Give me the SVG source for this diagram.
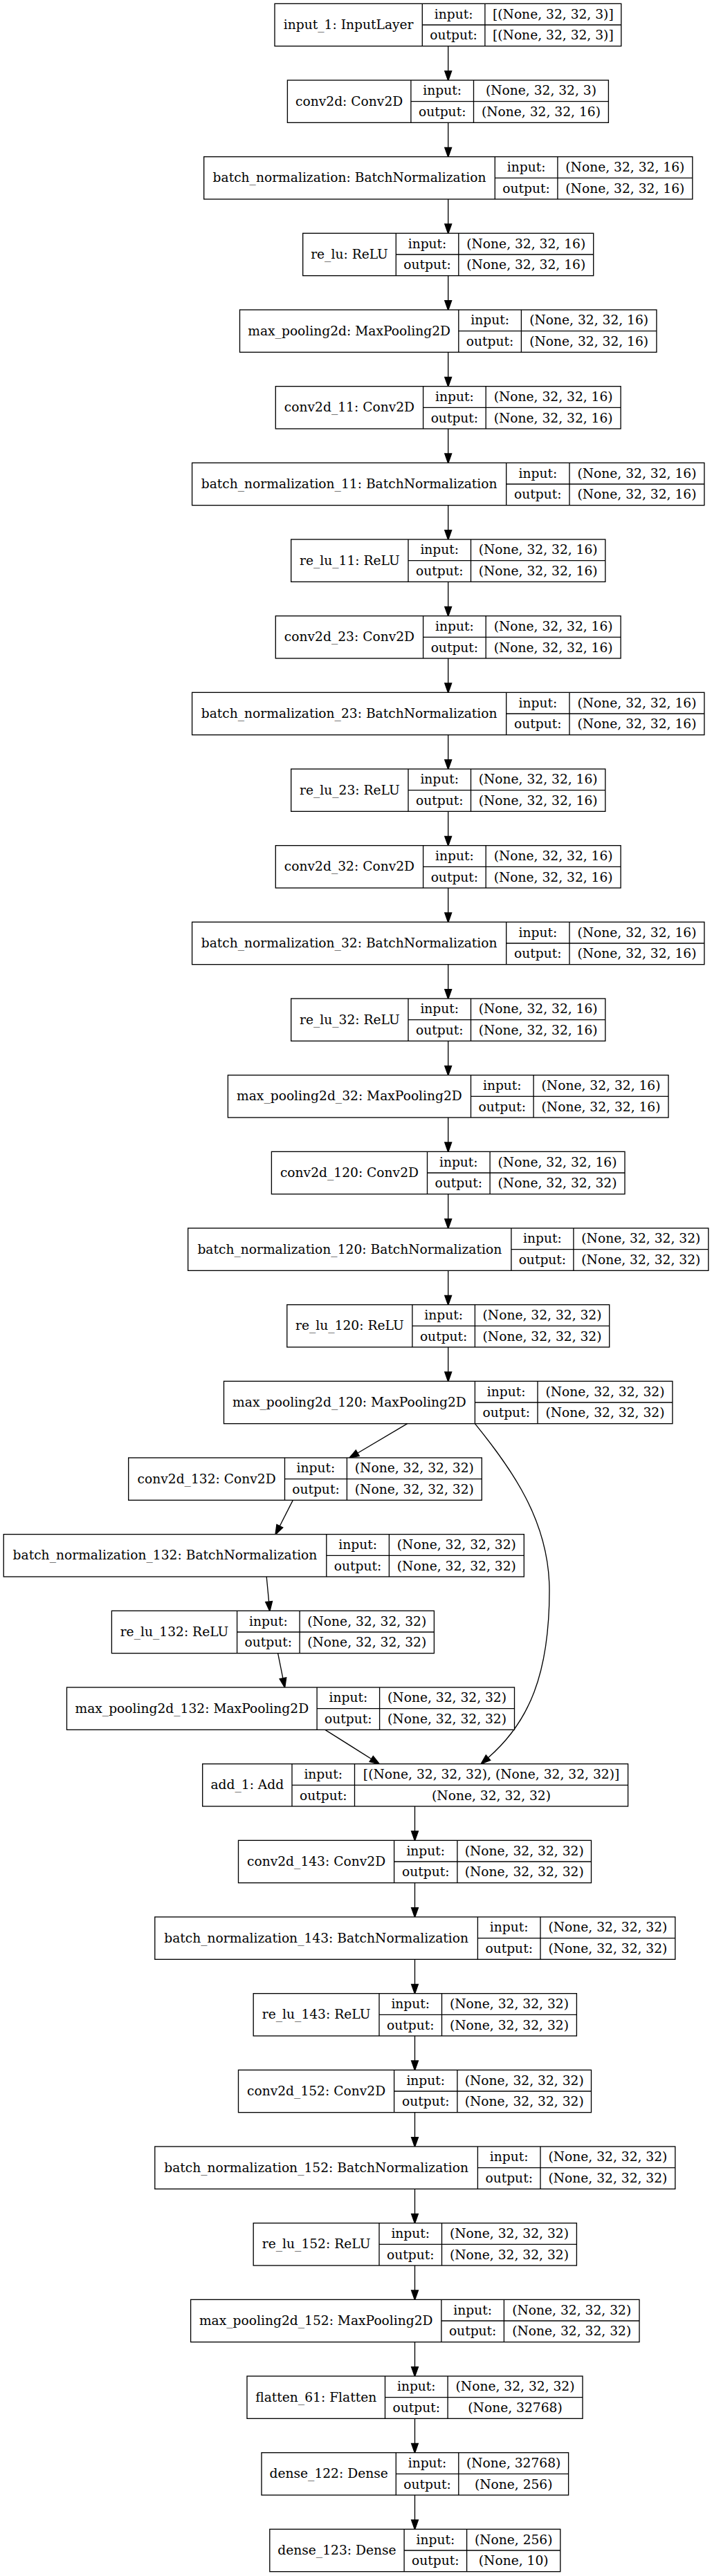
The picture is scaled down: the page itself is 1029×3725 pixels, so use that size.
<svg xmlns="http://www.w3.org/2000/svg" width="1029" height="3725" viewBox="0 0 1029 3725">
<style>
.node rect{fill:#fff;stroke:#000;stroke-width:1.33}
.node line{stroke:#000;stroke-width:1.33}
text{font-family:"DejaVu Serif","Liberation Serif",serif;font-size:18.67px;text-anchor:middle;fill:#000}
.edges path{fill:none;stroke:#000;stroke-width:1.33}
</style>
<defs>
<marker id="ah" markerUnits="userSpaceOnUse" markerWidth="16" markerHeight="12" viewBox="-1 -1 15.33 11.33" refX="0" refY="4.67" orient="auto" overflow="visible">
<path d="M0,0 L13.33,4.67 L0,9.33 z" fill="#000" stroke="#000" stroke-width="1.33"/>
</marker>
</defs>
<rect width="1029" height="3725" fill="#fff"/>
<g class="edges">
<path d="M647.7,66.67V102.67" marker-end="url(#ah)"/>
<path d="M647.7,177.33V213.33" marker-end="url(#ah)"/>
<path d="M647.7,288V324" marker-end="url(#ah)"/>
<path d="M647.7,398.67V434.67" marker-end="url(#ah)"/>
<path d="M647.7,509.33V545.33" marker-end="url(#ah)"/>
<path d="M647.7,620V656" marker-end="url(#ah)"/>
<path d="M647.7,730.67V766.67" marker-end="url(#ah)"/>
<path d="M647.7,841.33V877.33" marker-end="url(#ah)"/>
<path d="M647.7,952V988" marker-end="url(#ah)"/>
<path d="M647.7,1062.67V1098.67" marker-end="url(#ah)"/>
<path d="M647.7,1173.33V1209.33" marker-end="url(#ah)"/>
<path d="M647.7,1284V1320" marker-end="url(#ah)"/>
<path d="M647.7,1394.67V1430.67" marker-end="url(#ah)"/>
<path d="M647.7,1505.33V1541.33" marker-end="url(#ah)"/>
<path d="M647.7,1616V1652" marker-end="url(#ah)"/>
<path d="M647.7,1726.67V1762.67" marker-end="url(#ah)"/>
<path d="M647.7,1837.33V1873.33" marker-end="url(#ah)"/>
<path d="M647.7,1948V1984" marker-end="url(#ah)"/>
<path d="M588.7,2058.67L516.8,2101.2" marker-end="url(#ah)"/>
<path d="M686.4,2058.67C740,2125 794,2200 794,2300C794,2420 765,2490 705.5,2541.7" marker-end="url(#ah)"/>
<path d="M423.3,2169.33L404.3,2206.8" marker-end="url(#ah)"/>
<path d="M385.2,2280L388.6,2316.1" marker-end="url(#ah)"/>
<path d="M401.6,2390.67L408.9,2426.9" marker-end="url(#ah)"/>
<path d="M469.9,2501.33L536.7,2543.5" marker-end="url(#ah)"/>
<path d="M599.5,2612V2648" marker-end="url(#ah)"/>
<path d="M599.5,2722.67V2758.67" marker-end="url(#ah)"/>
<path d="M599.5,2833.33V2869.33" marker-end="url(#ah)"/>
<path d="M599.5,2944V2980" marker-end="url(#ah)"/>
<path d="M599.5,3054.67V3090.67" marker-end="url(#ah)"/>
<path d="M599.5,3165.33V3201.33" marker-end="url(#ah)"/>
<path d="M599.5,3276V3312" marker-end="url(#ah)"/>
<path d="M599.5,3386.67V3422.67" marker-end="url(#ah)"/>
<path d="M599.5,3497.33V3533.33" marker-end="url(#ah)"/>
<path d="M599.5,3608V3644" marker-end="url(#ah)"/>
</g>

<g id="n0" class="node" transform="translate(0,5.33)">
<rect x="397" y="0" width="500.8" height="61.33"/>
<line x1="610.3" y1="0" x2="610.3" y2="61.33"/><line x1="700.9" y1="0" x2="700.9" y2="61.33"/><line x1="610.3" y1="30.67" x2="897.8" y2="30.67"/>
<text x="503.65" y="36.67">input_1: InputLayer</text>
<text x="655.6" y="21.33">input:</text><text x="655.6" y="52">output:</text>
<text x="799.35" y="21.33">[(None, 32, 32, 3)]</text><text x="799.35" y="52">[(None, 32, 32, 3)]</text>
</g>

<g id="n1" class="node" transform="translate(0,116)">
<rect x="415.4" y="0" width="464" height="61.33"/>
<line x1="593.9" y1="0" x2="593.9" y2="61.33"/><line x1="684.5" y1="0" x2="684.5" y2="61.33"/><line x1="593.9" y1="30.67" x2="879.4" y2="30.67"/>
<text x="504.65" y="36.67">conv2d: Conv2D</text>
<text x="639.2" y="21.33">input:</text><text x="639.2" y="52">output:</text>
<text x="781.95" y="21.33">(None, 32, 32, 3)</text><text x="781.95" y="52">(None, 32, 32, 16)</text>
</g>

<g id="n2" class="node" transform="translate(0,226.67)">
<rect x="294.7" y="0" width="706.1" height="61.33"/>
<line x1="715.3" y1="0" x2="715.3" y2="61.33"/><line x1="805.9" y1="0" x2="805.9" y2="61.33"/><line x1="715.3" y1="30.67" x2="1000.8" y2="30.67"/>
<text x="505" y="36.67">batch_normalization: BatchNormalization</text>
<text x="760.6" y="21.33">input:</text><text x="760.6" y="52">output:</text>
<text x="903.35" y="21.33">(None, 32, 32, 16)</text><text x="903.35" y="52">(None, 32, 32, 16)</text>
</g>

<g id="n3" class="node" transform="translate(0,337.33)">
<rect x="437.7" y="0" width="420" height="61.33"/>
<line x1="572.3" y1="0" x2="572.3" y2="61.33"/><line x1="662.8" y1="0" x2="662.8" y2="61.33"/><line x1="572.3" y1="30.67" x2="857.7" y2="30.67"/>
<text x="505" y="36.67">re_lu: ReLU</text>
<text x="617.55" y="21.33">input:</text><text x="617.55" y="52">output:</text>
<text x="760.25" y="21.33">(None, 32, 32, 16)</text><text x="760.25" y="52">(None, 32, 32, 16)</text>
</g>

<g id="n4" class="node" transform="translate(0,448)">
<rect x="346.5" y="0" width="602.4" height="61.33"/>
<line x1="662.8" y1="0" x2="662.8" y2="61.33"/><line x1="753.4" y1="0" x2="753.4" y2="61.33"/><line x1="662.8" y1="30.67" x2="948.9" y2="30.67"/>
<text x="504.65" y="36.67">max_pooling2d: MaxPooling2D</text>
<text x="708.1" y="21.33">input:</text><text x="708.1" y="52">output:</text>
<text x="851.15" y="21.33">(None, 32, 32, 16)</text><text x="851.15" y="52">(None, 32, 32, 16)</text>
</g>

<g id="n5" class="node" transform="translate(0,558.67)">
<rect x="398.3" y="0" width="498.8" height="61.33"/>
<line x1="611.6" y1="0" x2="611.6" y2="61.33"/><line x1="702.2" y1="0" x2="702.2" y2="61.33"/><line x1="611.6" y1="30.67" x2="897.1" y2="30.67"/>
<text x="504.95" y="36.67">conv2d_11: Conv2D</text>
<text x="656.9" y="21.33">input:</text><text x="656.9" y="52">output:</text>
<text x="799.65" y="21.33">(None, 32, 32, 16)</text><text x="799.65" y="52">(None, 32, 32, 16)</text>
</g>

<g id="n6" class="node" transform="translate(0,669.33)">
<rect x="277.6" y="0" width="740.3" height="61.33"/>
<line x1="731.7" y1="0" x2="731.7" y2="61.33"/><line x1="823" y1="0" x2="823" y2="61.33"/><line x1="731.7" y1="30.67" x2="1017.9" y2="30.67"/>
<text x="504.65" y="36.67">batch_normalization_11: BatchNormalization</text>
<text x="777.35" y="21.33">input:</text><text x="777.35" y="52">output:</text>
<text x="920.45" y="21.33">(None, 32, 32, 16)</text><text x="920.45" y="52">(None, 32, 32, 16)</text>
</g>

<g id="n7" class="node" transform="translate(0,780)">
<rect x="420.7" y="0" width="454.1" height="61.33"/>
<line x1="590" y1="0" x2="590" y2="61.33"/><line x1="680.5" y1="0" x2="680.5" y2="61.33"/><line x1="590" y1="30.67" x2="874.8" y2="30.67"/>
<text x="505.35" y="36.67">re_lu_11: ReLU</text>
<text x="635.25" y="21.33">input:</text><text x="635.25" y="52">output:</text>
<text x="777.65" y="21.33">(None, 32, 32, 16)</text><text x="777.65" y="52">(None, 32, 32, 16)</text>
</g>

<g id="n8" class="node" transform="translate(0,890.67)">
<rect x="398.3" y="0" width="498.8" height="61.33"/>
<line x1="611.6" y1="0" x2="611.6" y2="61.33"/><line x1="702.2" y1="0" x2="702.2" y2="61.33"/><line x1="611.6" y1="30.67" x2="897.1" y2="30.67"/>
<text x="504.95" y="36.67">conv2d_23: Conv2D</text>
<text x="656.9" y="21.33">input:</text><text x="656.9" y="52">output:</text>
<text x="799.65" y="21.33">(None, 32, 32, 16)</text><text x="799.65" y="52">(None, 32, 32, 16)</text>
</g>

<g id="n9" class="node" transform="translate(0,1001.33)">
<rect x="277.6" y="0" width="740.3" height="61.33"/>
<line x1="731.7" y1="0" x2="731.7" y2="61.33"/><line x1="823" y1="0" x2="823" y2="61.33"/><line x1="731.7" y1="30.67" x2="1017.9" y2="30.67"/>
<text x="504.65" y="36.67">batch_normalization_23: BatchNormalization</text>
<text x="777.35" y="21.33">input:</text><text x="777.35" y="52">output:</text>
<text x="920.45" y="21.33">(None, 32, 32, 16)</text><text x="920.45" y="52">(None, 32, 32, 16)</text>
</g>

<g id="n10" class="node" transform="translate(0,1112)">
<rect x="420.7" y="0" width="454.1" height="61.33"/>
<line x1="590" y1="0" x2="590" y2="61.33"/><line x1="680.5" y1="0" x2="680.5" y2="61.33"/><line x1="590" y1="30.67" x2="874.8" y2="30.67"/>
<text x="505.35" y="36.67">re_lu_23: ReLU</text>
<text x="635.25" y="21.33">input:</text><text x="635.25" y="52">output:</text>
<text x="777.65" y="21.33">(None, 32, 32, 16)</text><text x="777.65" y="52">(None, 32, 32, 16)</text>
</g>

<g id="n11" class="node" transform="translate(0,1222.67)">
<rect x="398.3" y="0" width="498.8" height="61.33"/>
<line x1="611.6" y1="0" x2="611.6" y2="61.33"/><line x1="702.2" y1="0" x2="702.2" y2="61.33"/><line x1="611.6" y1="30.67" x2="897.1" y2="30.67"/>
<text x="504.95" y="36.67">conv2d_32: Conv2D</text>
<text x="656.9" y="21.33">input:</text><text x="656.9" y="52">output:</text>
<text x="799.65" y="21.33">(None, 32, 32, 16)</text><text x="799.65" y="52">(None, 32, 32, 16)</text>
</g>

<g id="n12" class="node" transform="translate(0,1333.33)">
<rect x="277.6" y="0" width="740.3" height="61.33"/>
<line x1="731.7" y1="0" x2="731.7" y2="61.33"/><line x1="823" y1="0" x2="823" y2="61.33"/><line x1="731.7" y1="30.67" x2="1017.9" y2="30.67"/>
<text x="504.65" y="36.67">batch_normalization_32: BatchNormalization</text>
<text x="777.35" y="21.33">input:</text><text x="777.35" y="52">output:</text>
<text x="920.45" y="21.33">(None, 32, 32, 16)</text><text x="920.45" y="52">(None, 32, 32, 16)</text>
</g>

<g id="n13" class="node" transform="translate(0,1444)">
<rect x="420.7" y="0" width="454.1" height="61.33"/>
<line x1="590" y1="0" x2="590" y2="61.33"/><line x1="680.5" y1="0" x2="680.5" y2="61.33"/><line x1="590" y1="30.67" x2="874.8" y2="30.67"/>
<text x="505.35" y="36.67">re_lu_32: ReLU</text>
<text x="635.25" y="21.33">input:</text><text x="635.25" y="52">output:</text>
<text x="777.65" y="21.33">(None, 32, 32, 16)</text><text x="777.65" y="52">(None, 32, 32, 16)</text>
</g>

<g id="n14" class="node" transform="translate(0,1554.67)">
<rect x="329.4" y="0" width="636.6" height="61.33"/>
<line x1="680.5" y1="0" x2="680.5" y2="61.33"/><line x1="771.1" y1="0" x2="771.1" y2="61.33"/><line x1="680.5" y1="30.67" x2="966" y2="30.67"/>
<text x="504.95" y="36.67">max_pooling2d_32: MaxPooling2D</text>
<text x="725.8" y="21.33">input:</text><text x="725.8" y="52">output:</text>
<text x="868.55" y="21.33">(None, 32, 32, 16)</text><text x="868.55" y="52">(None, 32, 32, 16)</text>
</g>

<g id="n15" class="node" transform="translate(0,1665.33)">
<rect x="392.4" y="0" width="510.6" height="61.33"/>
<line x1="617.5" y1="0" x2="617.5" y2="61.33"/><line x1="708.1" y1="0" x2="708.1" y2="61.33"/><line x1="617.5" y1="30.67" x2="903" y2="30.67"/>
<text x="504.95" y="36.67">conv2d_120: Conv2D</text>
<text x="662.8" y="21.33">input:</text><text x="662.8" y="52">output:</text>
<text x="805.55" y="21.33">(None, 32, 32, 16)</text><text x="805.55" y="52">(None, 32, 32, 32)</text>
</g>

<g id="n16" class="node" transform="translate(0,1776)">
<rect x="271.7" y="0" width="752.1" height="61.33"/>
<line x1="738.9" y1="0" x2="738.9" y2="61.33"/><line x1="828.9" y1="0" x2="828.9" y2="61.33"/><line x1="738.9" y1="30.67" x2="1023.8" y2="30.67"/>
<text x="505.3" y="36.67">batch_normalization_120: BatchNormalization</text>
<text x="783.9" y="21.33">input:</text><text x="783.9" y="52">output:</text>
<text x="926.35" y="21.33">(None, 32, 32, 32)</text><text x="926.35" y="52">(None, 32, 32, 32)</text>
</g>

<g id="n17" class="node" transform="translate(0,1886.67)">
<rect x="414.8" y="0" width="465.9" height="61.33"/>
<line x1="595.9" y1="0" x2="595.9" y2="61.33"/><line x1="686.4" y1="0" x2="686.4" y2="61.33"/><line x1="595.9" y1="30.67" x2="880.7" y2="30.67"/>
<text x="505.35" y="36.67">re_lu_120: ReLU</text>
<text x="641.15" y="21.33">input:</text><text x="641.15" y="52">output:</text>
<text x="783.55" y="21.33">(None, 32, 32, 32)</text><text x="783.55" y="52">(None, 32, 32, 32)</text>
</g>

<g id="n18" class="node" transform="translate(0,1997.33)">
<rect x="323.5" y="0" width="648.4" height="61.33"/>
<line x1="686.4" y1="0" x2="686.4" y2="61.33"/><line x1="777" y1="0" x2="777" y2="61.33"/><line x1="686.4" y1="30.67" x2="971.9" y2="30.67"/>
<text x="504.95" y="36.67">max_pooling2d_120: MaxPooling2D</text>
<text x="731.7" y="21.33">input:</text><text x="731.7" y="52">output:</text>
<text x="874.45" y="21.33">(None, 32, 32, 32)</text><text x="874.45" y="52">(None, 32, 32, 32)</text>
</g>

<g id="n19" class="node" transform="translate(0,2108)">
<rect x="185.7" y="0" width="510.6" height="61.33"/>
<line x1="411.5" y1="0" x2="411.5" y2="61.33"/><line x1="501.4" y1="0" x2="501.4" y2="61.33"/><line x1="411.5" y1="30.67" x2="696.3" y2="30.67"/>
<text x="298.6" y="36.67">conv2d_132: Conv2D</text>
<text x="456.45" y="21.33">input:</text><text x="456.45" y="52">output:</text>
<text x="598.85" y="21.33">(None, 32, 32, 32)</text><text x="598.85" y="52">(None, 32, 32, 32)</text>
</g>

<g id="n20" class="node" transform="translate(0,2218.67)">
<rect x="5.25" y="0" width="752.05" height="61.33"/>
<line x1="471.8" y1="0" x2="471.8" y2="61.33"/><line x1="562.4" y1="0" x2="562.4" y2="61.33"/><line x1="471.8" y1="30.67" x2="757.3" y2="30.67"/>
<text x="238.5" y="36.67">batch_normalization_132: BatchNormalization</text>
<text x="517.1" y="21.33">input:</text><text x="517.1" y="52">output:</text>
<text x="659.85" y="21.33">(None, 32, 32, 32)</text><text x="659.85" y="52">(None, 32, 32, 32)</text>
</g>

<g id="n21" class="node" transform="translate(0,2329.33)">
<rect x="161.4" y="0" width="466" height="61.33"/>
<line x1="342.6" y1="0" x2="342.6" y2="61.33"/><line x1="433.1" y1="0" x2="433.1" y2="61.33"/><line x1="342.6" y1="30.67" x2="627.4" y2="30.67"/>
<text x="252" y="36.67">re_lu_132: ReLU</text>
<text x="387.85" y="21.33">input:</text><text x="387.85" y="52">output:</text>
<text x="530.25" y="21.33">(None, 32, 32, 32)</text><text x="530.25" y="52">(None, 32, 32, 32)</text>
</g>

<g id="n22" class="node" transform="translate(0,2440)">
<rect x="96.5" y="0" width="647" height="61.33"/>
<line x1="458.1" y1="0" x2="458.1" y2="61.33"/><line x1="548.6" y1="0" x2="548.6" y2="61.33"/><line x1="458.1" y1="30.67" x2="743.5" y2="30.67"/>
<text x="277.3" y="36.67">max_pooling2d_132: MaxPooling2D</text>
<text x="503.35" y="21.33">input:</text><text x="503.35" y="52">output:</text>
<text x="646.05" y="21.33">(None, 32, 32, 32)</text><text x="646.05" y="52">(None, 32, 32, 32)</text>
</g>

<g id="n23" class="node" transform="translate(0,2550.67)">
<rect x="292.7" y="0" width="614.9" height="61.33"/>
<line x1="422" y1="0" x2="422" y2="61.33"/><line x1="512.5" y1="0" x2="512.5" y2="61.33"/><line x1="422" y1="30.67" x2="907.6" y2="30.67"/>
<text x="357.35" y="36.67">add_1: Add</text>
<text x="467.25" y="21.33">input:</text><text x="467.25" y="52">output:</text>
<text x="710.05" y="21.33">[(None, 32, 32, 32), (None, 32, 32, 32)]</text><text x="710.05" y="52">(None, 32, 32, 32)</text>
</g>

<g id="n24" class="node" transform="translate(0,2661.33)">
<rect x="344.5" y="0" width="510" height="61.33"/>
<line x1="569.6" y1="0" x2="569.6" y2="61.33"/><line x1="660.9" y1="0" x2="660.9" y2="61.33"/><line x1="569.6" y1="30.67" x2="854.5" y2="30.67"/>
<text x="457.05" y="36.67">conv2d_143: Conv2D</text>
<text x="615.25" y="21.33">input:</text><text x="615.25" y="52">output:</text>
<text x="757.7" y="21.33">(None, 32, 32, 32)</text><text x="757.7" y="52">(None, 32, 32, 32)</text>
</g>

<g id="n25" class="node" transform="translate(0,2772)">
<rect x="223.8" y="0" width="752" height="61.33"/>
<line x1="690.4" y1="0" x2="690.4" y2="61.33"/><line x1="781" y1="0" x2="781" y2="61.33"/><line x1="690.4" y1="30.67" x2="975.8" y2="30.67"/>
<text x="457.1" y="36.67">batch_normalization_143: BatchNormalization</text>
<text x="735.7" y="21.33">input:</text><text x="735.7" y="52">output:</text>
<text x="878.4" y="21.33">(None, 32, 32, 32)</text><text x="878.4" y="52">(None, 32, 32, 32)</text>
</g>

<g id="n26" class="node" transform="translate(0,2882.67)">
<rect x="366.2" y="0" width="467.2" height="61.33"/>
<line x1="548" y1="0" x2="548" y2="61.33"/><line x1="638.5" y1="0" x2="638.5" y2="61.33"/><line x1="548" y1="30.67" x2="833.4" y2="30.67"/>
<text x="457.1" y="36.67">re_lu_143: ReLU</text>
<text x="593.25" y="21.33">input:</text><text x="593.25" y="52">output:</text>
<text x="735.95" y="21.33">(None, 32, 32, 32)</text><text x="735.95" y="52">(None, 32, 32, 32)</text>
</g>

<g id="n27" class="node" transform="translate(0,2993.33)">
<rect x="344.5" y="0" width="510" height="61.33"/>
<line x1="569.6" y1="0" x2="569.6" y2="61.33"/><line x1="660.9" y1="0" x2="660.9" y2="61.33"/><line x1="569.6" y1="30.67" x2="854.5" y2="30.67"/>
<text x="457.05" y="36.67">conv2d_152: Conv2D</text>
<text x="615.25" y="21.33">input:</text><text x="615.25" y="52">output:</text>
<text x="757.7" y="21.33">(None, 32, 32, 32)</text><text x="757.7" y="52">(None, 32, 32, 32)</text>
</g>

<g id="n28" class="node" transform="translate(0,3104)">
<rect x="223.8" y="0" width="752" height="61.33"/>
<line x1="690.4" y1="0" x2="690.4" y2="61.33"/><line x1="781" y1="0" x2="781" y2="61.33"/><line x1="690.4" y1="30.67" x2="975.8" y2="30.67"/>
<text x="457.1" y="36.67">batch_normalization_152: BatchNormalization</text>
<text x="735.7" y="21.33">input:</text><text x="735.7" y="52">output:</text>
<text x="878.4" y="21.33">(None, 32, 32, 32)</text><text x="878.4" y="52">(None, 32, 32, 32)</text>
</g>

<g id="n29" class="node" transform="translate(0,3214.67)">
<rect x="366.2" y="0" width="467.2" height="61.33"/>
<line x1="548" y1="0" x2="548" y2="61.33"/><line x1="638.5" y1="0" x2="638.5" y2="61.33"/><line x1="548" y1="30.67" x2="833.4" y2="30.67"/>
<text x="457.1" y="36.67">re_lu_152: ReLU</text>
<text x="593.25" y="21.33">input:</text><text x="593.25" y="52">output:</text>
<text x="735.95" y="21.33">(None, 32, 32, 32)</text><text x="735.95" y="52">(None, 32, 32, 32)</text>
</g>

<g id="n30" class="node" transform="translate(0,3325.33)">
<rect x="275.6" y="0" width="648.4" height="61.33"/>
<line x1="637.9" y1="0" x2="637.9" y2="61.33"/><line x1="728.4" y1="0" x2="728.4" y2="61.33"/><line x1="637.9" y1="30.67" x2="924" y2="30.67"/>
<text x="456.75" y="36.67">max_pooling2d_152: MaxPooling2D</text>
<text x="683.15" y="21.33">input:</text><text x="683.15" y="52">output:</text>
<text x="826.2" y="21.33">(None, 32, 32, 32)</text><text x="826.2" y="52">(None, 32, 32, 32)</text>
</g>

<g id="n31" class="node" transform="translate(0,3436)">
<rect x="357" y="0" width="485" height="61.33"/>
<line x1="556.5" y1="0" x2="556.5" y2="61.33"/><line x1="647.1" y1="0" x2="647.1" y2="61.33"/><line x1="556.5" y1="30.67" x2="842" y2="30.67"/>
<text x="456.75" y="36.67">flatten_61: Flatten</text>
<text x="601.8" y="21.33">input:</text><text x="601.8" y="52">output:</text>
<text x="744.55" y="21.33">(None, 32, 32, 32)</text><text x="744.55" y="52">(None, 32768)</text>
</g>

<g id="n32" class="node" transform="translate(0,3546.67)">
<rect x="378" y="0" width="443.6" height="61.33"/>
<line x1="572.3" y1="0" x2="572.3" y2="61.33"/><line x1="662.8" y1="0" x2="662.8" y2="61.33"/><line x1="572.3" y1="30.67" x2="821.6" y2="30.67"/>
<text x="475.15" y="36.67">dense_122: Dense</text>
<text x="617.55" y="21.33">input:</text><text x="617.55" y="52">output:</text>
<text x="742.2" y="21.33">(None, 32768)</text><text x="742.2" y="52">(None, 256)</text>
</g>

<g id="n33" class="node" transform="translate(0,3657.33)">
<rect x="389.8" y="0" width="420" height="61.33"/>
<line x1="584.1" y1="0" x2="584.1" y2="61.33"/><line x1="674.6" y1="0" x2="674.6" y2="61.33"/><line x1="584.1" y1="30.67" x2="809.8" y2="30.67"/>
<text x="486.95" y="36.67">dense_123: Dense</text>
<text x="629.35" y="21.33">input:</text><text x="629.35" y="52">output:</text>
<text x="742.2" y="21.33">(None, 256)</text><text x="742.2" y="52">(None, 10)</text>
</g>
</svg>
